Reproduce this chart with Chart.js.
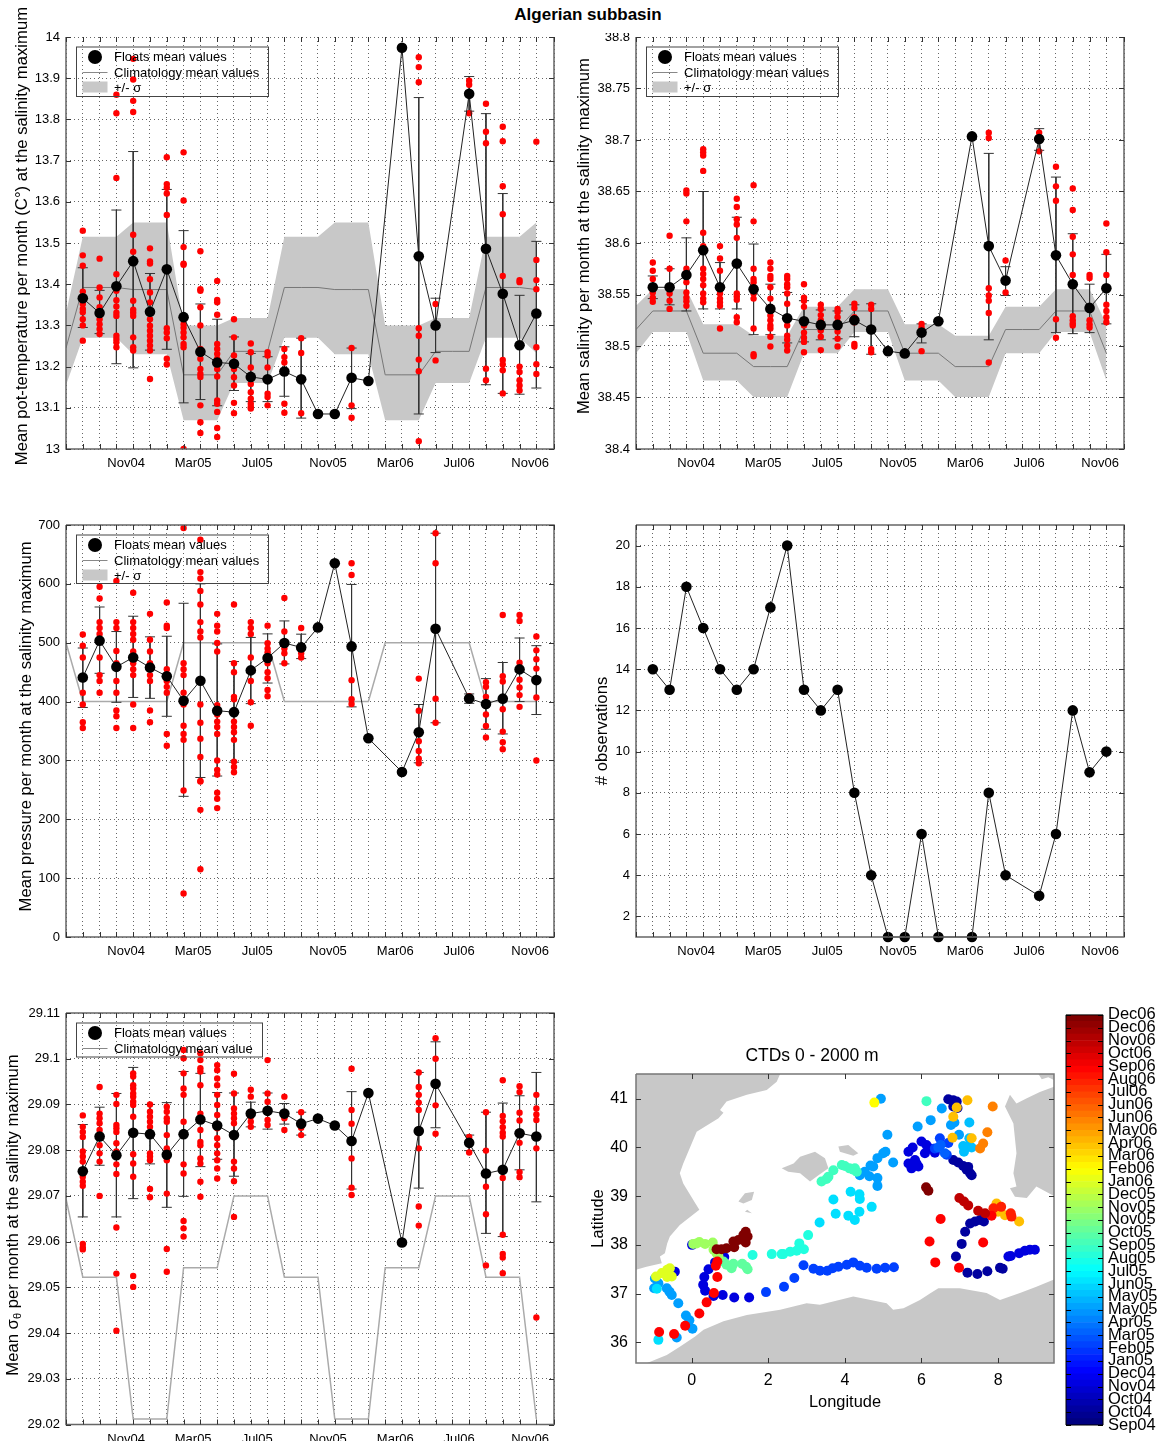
<!DOCTYPE html>
<html>
<head>
<meta charset="utf-8">
<title>Algerian subbasin</title>
<script src="https://cdn.jsdelivr.net/npm/chart.js@4/dist/chart.umd.min.js"></script>
<style>
body { margin: 0; background: #fff; width: 1161px; height: 1441px; position: relative; overflow: hidden; font-family: "Liberation Sans", Arial, sans-serif; }
canvas { position: absolute; }
#title { position: absolute; left: 0; width: 1176px; top: 5px; text-align: center; font-weight: bold; font-size: 17px; line-height: 20px; }
#mask { position: absolute; left: 600px; top: 20px; width: 36px; height: 13px; background: #fff; }
</style>
</head>
<body>
<div id="title">Algerian subbasin</div>
<canvas id="temp" width="570" height="480" style="left:0;top:0"></canvas>
<canvas id="sal" width="570" height="480" style="left:570px;top:0"></canvas>
<canvas id="pres" width="570" height="480" style="left:0;top:490px"></canvas>
<canvas id="count" width="570" height="480" style="left:570px;top:490px"></canvas>
<canvas id="sigma" width="570" height="461" style="left:0;top:980px"></canvas>
<canvas id="map" width="550" height="382" style="left:570px;top:1030px"></canvas>
<canvas id="bar" width="111" height="441" style="left:1050px;top:1000px"></canvas>
<div id="mask"></div>
<script>
// month slots: 0 = Sep04 ... 27 = Dec06, climatology starts one slot earlier
const xTickPos = [2.58, 6.57, 10.38, 14.6, 18.6, 22.4, 26.63]
const xTickLabels = ['Nov04', 'Mar05', 'Jul05', 'Nov05', 'Mar06', 'Jul06', 'Nov06']

const tempTicks = [13, 13.1, 13.2, 13.3, 13.4, 13.5, 13.6, 13.7, 13.8, 13.9, 14]
const tempMean = [13.366, 13.33, 13.395, 13.456, 13.333, 13.436, 13.32, 13.236, 13.21, 13.207, 13.175, 13.169, 13.188, 13.169, 13.085, 13.085, 13.173, 13.165, null, 13.974, 13.468, 13.3, null, 13.862, 13.486, 13.377, 13.252, 13.329]
const tempHi = [13.44, 13.385, 13.58, 13.722, 13.426, 13.63, 13.53, 13.352, 13.315, 13.272, 13.232, 13.224, 13.248, 13.269, null, null, 13.245, null, null, null, 13.853, 13.366, null, 13.904, 13.814, 13.62, 13.373, 13.504]
const tempLo = [13.295, 13.28, 13.207, 13.197, 13.24, 13.242, 13.112, 13.12, 13.105, 13.142, 13.115, 13.115, 13.128, 13.075, null, null, 13.098, null, null, null, 13.085, 13.234, null, 13.82, 13.156, 13.135, 13.133, 13.148]
const tempClim = [13.245, 13.392, 13.392, 13.392, 13.387, 13.387, 13.387, 13.18, 13.18, 13.18, 13.237, 13.237, 13.237, 13.392, 13.392, 13.392, 13.387, 13.387, 13.387, 13.18, 13.18, 13.18, 13.237, 13.237, 13.237, 13.392, 13.392, 13.392, 13.387]
const tempBandHi = [13.33, 13.515, 13.515, 13.515, 13.55, 13.55, 13.55, 13.3, 13.3, 13.3, 13.318, 13.318, 13.318, 13.515, 13.515, 13.515, 13.55, 13.55, 13.55, 13.3, 13.3, 13.3, 13.318, 13.318, 13.318, 13.515, 13.515, 13.515, 13.55]
const tempBandLo = [13.155, 13.27, 13.27, 13.27, 13.23, 13.23, 13.23, 13.07, 13.07, 13.07, 13.16, 13.16, 13.16, 13.27, 13.27, 13.27, 13.23, 13.23, 13.23, 13.07, 13.07, 13.07, 13.16, 13.16, 13.16, 13.27, 13.27, 13.27, 13.233]
const tempObs = [
	[13.53, 13.47, 13.445, 13.382, 13.368, 13.352, 13.34, 13.332, 13.315, 13.3, 13.263],
	[13.462, 13.392, 13.368, 13.344, 13.33, 13.315, 13.303, 13.291, 13.279],
	[13.86, 13.815, 13.658, 13.424, 13.384, 13.361, 13.346, 13.331, 13.323, 13.275, 13.267, 13.259, 13.247],
	[13.947, 13.897, 13.845, 13.818, 13.52, 13.479, 13.36, 13.338, 13.331, 13.323, 13.271, 13.247, 13.239],
	[13.487, 13.455, 13.45, 13.412, 13.38, 13.356, 13.315, 13.299, 13.287, 13.275, 13.263, 13.251, 13.239, 13.17],
	[13.708, 13.643, 13.634, 13.62, 13.568, 13.293, 13.283, 13.269, 13.219, 13.205],
	[13.72, 13.603, 13.49, 13.45, 13.447, 13.303, 13.294, 13.283, 13.271, 13.255, 13.247, 13],
	[13.48, 13.388, 13.384, 13.344, 13.3, 13.243, 13.231, 13.219, 13.194, 13.182, 13.175, 13.106, 13.065, 13.039],
	[13.408, 13.362, 13.356, 13.326, 13.255, 13.243, 13.231, 13.219, 13.194, 13.176, 13.118, 13.11, 13.09, 13.051, 13.029],
	[13.315, 13.271, 13.227, 13.21, 13.194, 13.174, 13.154, 13.112, 13.087],
	[13.256, 13.235, 13.198, 13.158, 13.138, 13.122, 13.11, 13.102, 13.098],
	[13.235, 13.227, 13.198, 13.134, 13.126, 13.106],
	[13.243, 13.223, 13.21, 13.11, 13.088],
	[13.269, 13.233, 13.087],
	[], [],
	[13.245, 13.106, 13.076],
	[], [], [],
	[13.951, 13.927, 13.89, 13.293, 13.275, 13.217, 13.189, 13.019],
	[13.352, 13.303, 13.215],
	[],
	[13.894, 13.884, 13.815],
	[13.838, 13.77, 13.742, 13.195, 13.167],
	[13.782, 13.747, 13.638, 13.57, 13.42, 13.216, 13.205, 13.191, 13.135],
	[13.41, 13.405, 13.2, 13.187, 13.167, 13.154, 13.142],
	[13.746, 13.459, 13.41, 13.388, 13.247, 13.206, 13.182]
]

const salTicks = [38.4, 38.45, 38.5, 38.55, 38.6, 38.65, 38.7, 38.75, 38.8]
const salMean = [38.557, 38.557, 38.569, 38.593, 38.557, 38.58, 38.555, 38.536, 38.527, 38.524, 38.5205, 38.5205, 38.525, 38.516, 38.495, 38.4928, 38.513, 38.524, null, 38.7035, 38.597, 38.5635, null, 38.701, 38.588, 38.56, 38.537, 38.556]
const salHi = [38.568, 38.575, 38.605, 38.65, 38.581, 38.625, 38.599, 38.56, 38.552, 38.544, 38.535, 38.534, 38.54, 38.541, null, null, 38.5215, null, null, null, 38.687, 38.577, null, 38.711, 38.664, 38.609, 38.56, 38.589]
const salLo = [38.546, 38.54, 38.534, 38.536, 38.536, 38.536, 38.511, 38.511, 38.503, 38.504, 38.506, 38.507, 38.509, 38.492, null, null, 38.503, null, null, null, 38.506, 38.549, null, 38.69, 38.513, 38.512, 38.513, 38.5215]
const salClim = [38.516, 38.534, 38.534, 38.534, 38.493, 38.493, 38.493, 38.48, 38.48, 38.48, 38.516, 38.516, 38.516, 38.534, 38.534, 38.534, 38.493, 38.493, 38.493, 38.48, 38.48, 38.48, 38.516, 38.516, 38.516, 38.534, 38.534, 38.534, 38.493]
const salBandHi = [38.539, 38.555, 38.555, 38.555, 38.521, 38.521, 38.521, 38.51, 38.51, 38.51, 38.538, 38.538, 38.538, 38.555, 38.555, 38.555, 38.521, 38.521, 38.521, 38.51, 38.51, 38.51, 38.538, 38.538, 38.538, 38.555, 38.555, 38.555, 38.521]
const salBandLo = [38.493, 38.5135, 38.5135, 38.5135, 38.4666, 38.4666, 38.4666, 38.4504, 38.4504, 38.4504, 38.493, 38.493, 38.493, 38.5135, 38.5135, 38.5135, 38.4666, 38.4666, 38.4666, 38.4504, 38.4504, 38.4504, 38.493, 38.493, 38.493, 38.5135, 38.5135, 38.5135, 38.4666]
const salObs = [
	[38.581, 38.573, 38.565, 38.558, 38.552, 38.547, 38.543],
	[38.607, 38.575, 38.557, 38.551, 38.544, 38.536],
	[38.651, 38.648, 38.621, 38.575, 38.568, 38.562, 38.552, 38.547, 38.5435, 38.539],
	[38.691, 38.688, 38.685, 38.67, 38.61, 38.597, 38.575, 38.57, 38.565, 38.559, 38.551, 38.546, 38.5425],
	[38.597, 38.585, 38.573, 38.551, 38.546, 38.5425, 38.539, 38.517],
	[38.643, 38.635, 38.623, 38.618, 38.605, 38.551, 38.548, 38.545, 38.528, 38.523],
	[38.656, 38.621, 38.575, 38.565, 38.562, 38.557, 38.551, 38.546, 38.517, 38.492, 38.49],
	[38.581, 38.575, 38.568, 38.565, 38.557, 38.546, 38.538, 38.5295, 38.525, 38.52, 38.517, 38.509, 38.4995],
	[38.568, 38.565, 38.56, 38.557, 38.551, 38.541, 38.525, 38.52, 38.51, 38.506, 38.5005, 38.4957],
	[38.56, 38.547, 38.544, 38.538, 38.52, 38.513, 38.508, 38.504, 38.494],
	[38.54, 38.536, 38.53, 38.525, 38.52, 38.515, 38.509, 38.496],
	[38.536, 38.533, 38.528, 38.523, 38.519, 38.514, 38.507, 38.4995],
	[38.541, 38.537, 38.528, 38.523, 38.502, 38.4995],
	[38.54, 38.536, 38.497, 38.494],
	[], [],
	[38.5215, 38.518, 38.495],
	[], [], [],
	[38.707, 38.702, 38.556, 38.549, 38.544, 38.532, 38.484],
	[38.583, 38.552],
	[],
	[38.707, 38.689],
	[38.674, 38.655, 38.641, 38.526, 38.508],
	[38.653, 38.632, 38.606, 38.589, 38.569, 38.529, 38.525, 38.522, 38.52],
	[38.569, 38.566, 38.525, 38.521, 38.518],
	[38.619, 38.591, 38.569, 38.54, 38.534, 38.528, 38.523]
]

const presTicks = [0, 100, 200, 300, 400, 500, 600, 700]
const presMean = [441, 503.5, 459, 475, 458, 443, 401.5, 435.5, 384.5, 382, 453, 474, 499.5, 492, 526, 635, 493.7, 337.6, null, 280.4, 348, 523.6, null, 405.3, 396, 405, 454.7, 436.5]
const presHi = [491, 560.7, 519, 545, 510, 511, 567, 600, 498, 468, 509, 515, 537, 514.5, null, null, 599, null, null, null, 395, 686, null, 413, 439, 466.4, 508, 495]
const presLo = [390, 448, 398.7, 407, 405.5, 375, 239, 271, 273.5, 297, 396.5, 431.5, 464, 473, null, null, 391, null, null, null, 296, 364, null, 397, 353, 345, 400, 378]
const presClim = [500, 400, 400, 400, 400, 400, 400, 500, 500, 500, 500, 500, 500, 400, 400, 400, 400, 400, 400, 500, 500, 500, 500, 500, 500, 400, 400, 400, 400]
const presObs = [
	[514, 495, 475, 415, 395, 365, 355],
	[595, 575, 535, 525, 515, 506, 475, 445, 435, 415],
	[605, 535, 525, 486, 465, 435, 415, 385, 375, 355],
	[585, 535, 525, 515, 505, 485, 475, 465, 455, 445, 395, 355],
	[549, 505, 485, 465, 455, 445, 435, 385, 365],
	[568.5, 529, 525, 455, 445, 435, 425, 415, 345, 325],
	[695, 465, 455, 445, 415, 395, 359, 345, 335, 249, 74],
	[675, 620, 609, 588, 565, 535, 519, 509, 395, 364, 337, 306, 265, 264, 216, 115],
	[549, 529, 519, 499.5, 485, 394, 378, 366, 357, 345, 300, 284, 276, 245, 235, 219],
	[565, 465, 450, 408, 404, 366, 357, 348, 335, 298, 289, 280],
	[535, 525, 515, 475, 435, 399, 359],
	[529, 499, 490, 483.6, 465, 450, 439.5, 419.6, 409],
	[576, 519, 499, 490, 482, 465],
	[525, 482, 475],
	[], [],
	[635, 615, 436.4, 404, 396],
	[], [], [],
	[439, 384.5, 332.5, 316, 303, 295],
	[686, 635, 405, 364],
	[],
	[409, 405],
	[433, 425, 408, 378, 358.5, 339],
	[547, 443, 434, 407, 387, 349, 331, 319],
	[547, 537, 466, 456, 437, 424, 411, 391],
	[510.5, 487, 472, 456, 407, 300]
]

const countTicks = [2, 4, 6, 8, 10, 12, 14, 16, 18, 20]
const countValues = [14, 13, 18, 16, 14, 13, 14, 17, 20, 13, 12, 13, 8, 4, 1, 1, 6, 1, null, 1, 8, 4, null, 3, 6, 12, 9, 10]

const sigTicks = [29.02, 29.03, 29.04, 29.05, 29.06, 29.07, 29.08, 29.09, 29.1, 29.11]
const sigMean = [29.0754, 29.083, 29.0789, 29.0838, 29.0835, 29.079, 29.0835, 29.0867, 29.0854, 29.0833, 29.088, 29.0886, 29.088, 29.0858, 29.0869, 29.0854, 29.082, 29.0925, null, 29.0598, 29.0842, 29.0945, null, 29.0816, 29.0749, 29.0757, 29.0837, 29.083]
const sigHi = [29.0856, 29.0894, 29.0924, 29.0981, 29.09, 29.0904, 29.0972, 29.0968, 29.0926, 29.0925, 29.0905, 29.0925, 29.0902, 29.0883, null, null, 29.0928, null, null, null, 29.097, 29.1037, null, 29.0833, 29.0883, 29.0903, 29.0919, 29.097]
const sigLo = [29.0654, 29.0767, 29.0654, 29.0694, 29.077, 29.0675, 29.0699, 29.0764, 29.078, 29.0743, 29.0851, 29.0846, 29.0857, 29.0833, null, null, 29.0715, null, null, null, 29.0717, 29.0849, null, 29.0799, 29.0618, 29.0611, 29.0757, 29.0687]
const sigClim = [29.0694, 29.0522, 29.0522, 29.0522, 29.0212, 29.0212, 29.0212, 29.0543, 29.0543, 29.0543, 29.07, 29.07, 29.07, 29.0522, 29.0522, 29.0522, 29.0212, 29.0212, 29.0212, 29.0543, 29.0543, 29.0543, 29.07, 29.07, 29.07, 29.0522, 29.0522, 29.0522, 29.0212]
const sigObs = [
	[29.0876, 29.0851, 29.084, 29.0829, 29.0797, 29.0786, 29.0775, 29.0742, 29.0731, 29.0722, 29.0595, 29.0587, 29.0583],
	[29.0938, 29.088, 29.087, 29.0859, 29.0844, 29.0811, 29.0793, 29.0775, 29.07],
	[29.0921, 29.0901, 29.0855, 29.0848, 29.084, 29.0815, 29.0797, 29.0769, 29.0748, 29.0631, 29.053, 29.0405],
	[29.0968, 29.0961, 29.0942, 29.0935, 29.0924, 29.0917, 29.0906, 29.0899, 29.0873, 29.0791, 29.0771, 29.0742, 29.0525, 29.0501],
	[29.09, 29.0884, 29.0873, 29.0862, 29.0851, 29.0793, 29.0786, 29.0778, 29.0715, 29.0697],
	[29.0895, 29.0884, 29.087, 29.0862, 29.0833, 29.0804, 29.0797, 29.0778, 29.0705, 29.0584, 29.0534],
	[29.1019, 29.1001, 29.0968, 29.0935, 29.0921, 29.0862, 29.0769, 29.0749, 29.0645, 29.0629, 29.0611],
	[29.1012, 29.0997, 29.0979, 29.0972, 29.0942, 29.088, 29.0844, 29.0818, 29.0811, 29.0782, 29.0771, 29.0731, 29.0698],
	[29.0986, 29.0975, 29.0957, 29.0942, 29.0921, 29.0899, 29.0877, 29.0848, 29.0826, 29.0811, 29.0793, 29.0778, 29.076, 29.0738],
	[29.0967, 29.0924, 29.0891, 29.088, 29.087, 29.0859, 29.0833, 29.0775, 29.076, 29.0732, 29.0654],
	[29.0932, 29.0917, 29.0873, 29.0862, 29.0851],
	[29.0997, 29.0924, 29.0906, 29.0884, 29.0866, 29.0855],
	[29.0917, 29.087, 29.0844],
	[29.0883, 29.0849, 29.0833],
	[], [],
	[29.0978, 29.0888, 29.0858, 29.0782, 29.0718, 29.0702],
	[], [], [],
	[29.097, 29.0938, 29.0921, 29.0904, 29.0888, 29.0804, 29.0677, 29.0635],
	[29.1045, 29.1, 29.0898, 29.0836],
	[],
	[29.0829, 29.082, 29.0795],
	[29.0883, 29.0799, 29.072, 29.066, 29.0548],
	[29.0953, 29.0875, 29.0863, 29.085, 29.0838, 29.083, 29.0739, 29.0615, 29.0573, 29.0565, 29.0531],
	[29.094, 29.0927, 29.0882, 29.0865, 29.0816, 29.0752, 29.0741],
	[29.0921, 29.0891, 29.0878, 29.0866, 29.0804, 29.0434]
]

// colour bar labels, top to bottom
const barLabels = ['Dec06', 'Dec06', 'Nov06', 'Oct06', 'Sep06', 'Aug06', 'Jul06', 'Jun06', 'Jun06', 'May06', 'Apr06', 'Mar06', 'Feb06', 'Jan06', 'Dec05', 'Nov05', 'Nov05', 'Oct05', 'Sep05', 'Aug05', 'Jul05', 'Jun05', 'May05', 'May05', 'Apr05', 'Mar05', 'Feb05', 'Jan05', 'Dec04', 'Nov04', 'Oct04', 'Oct04', 'Sep04']

// land outlines as [lon, lat]
const landSpain = [[-1.46, 41.51], [2.31, 41.51], [2.22, 41.35], [1.96, 41.18], [1.44, 41.08], [0.91, 40.94], [0.74, 40.77], [0.83, 40.71], [0.7, 40.6], [0.13, 40.32], [-0.22, 39.67], [-0.31, 39.47], [-0.22, 39.26], [0.09, 38.86], [0.2, 38.72], [-0.31, 38.41], [-0.57, 38.17], [-0.64, 38.03], [-0.7, 37.83], [-0.83, 37.76], [-0.78, 37.62], [-1.18, 37.55], [-1.46, 37.49]]
const landAfrica = [[-1.18, 35.57], [-0.65, 35.74], [-0.31, 35.91], [0.09, 36.12], [0.31, 36.26], [0.83, 36.43], [1.44, 36.56], [2.31, 36.67], [3, 36.8], [3.35, 36.77], [4.22, 36.94], [5.09, 36.8], [5.26, 36.67], [5.53, 36.7], [5.96, 36.87], [6.22, 37], [6.44, 37.11], [7, 37.11], [7.7, 37.01], [8.05, 36.87], [8.57, 37.01], [9, 37.14], [9.47, 37.29], [9.47, 35.57]]
const landSardinia = [[9.47, 41.25], [9.09, 41.14], [8.75, 41.01], [8.48, 40.9], [8.31, 41.08], [8.18, 40.84], [8.4, 40.49], [8.48, 39.88], [8.4, 39.47], [8.48, 39.2], [8.31, 39.16], [8.44, 38.99], [8.75, 38.96], [9, 39.2], [9.47, 39]]
const landCorsica = [[9.05, 41.51], [9.14, 41.4], [9.31, 41.44], [9.47, 41.38], [9.47, 41.51]]
const landMallorca = [[2.35, 39.57], [2.66, 39.67], [2.83, 39.81], [3.22, 39.91], [3.48, 39.78], [3.57, 39.57], [3.31, 39.43], [3.09, 39.3], [2.83, 39.47], [2.52, 39.5]]
const landMenorca = [[3.83, 40.02], [4.09, 40.05], [4.35, 39.88], [4.22, 39.83], [3.87, 39.91]]
const landIbiza = [[1.22, 38.89], [1.39, 39.06], [1.63, 39.09], [1.57, 38.92], [1.35, 38.85]]
const landFormentera = [[1.39, 38.68], [1.57, 38.65], [1.45, 38.72]]

// float positions as [lon, lat], one list per colour bar slot (0 = Sep04)
const trackOct04 = [[6.7, 40.99], [6.83, 40.97], [6.92, 40.94], [6.83, 40.84], [6.94, 40.81], [6.83, 39.74], [6.96, 39.69], [7.09, 39.62], [7.22, 39.6], [7.18, 39.54], [7.27, 39.47], [7.31, 39.43], [6.9, 37.76], [7.05, 38.02], [7.14, 38.27], [7.27, 38.44], [7.4, 38.48], [7.53, 38.51], [7.63, 38.48], [7.2, 37.43], [7.46, 37.4], [7.72, 37.46], [8.05, 37.53], [8.12, 37.51]]
const trackNov04 = [[6, 40.12], [6.13, 40.05], [6.22, 39.98], [6.35, 39.89], [6.09, 39.88], [5.66, 39.91], [5.77, 40], [5.66, 39.67], [5.83, 39.74], [5.74, 39.57], [5.92, 39.61], [5.87, 39.67], [8.27, 37.76], [8.33, 37.77], [8.55, 37.83], [8.7, 37.88], [8.83, 37.9], [8.96, 37.9], [0.33, 37.34], [0.3, 37.18], [0.35, 37.06], [0.44, 37.5], [0.57, 36.95], [0.81, 36.97], [1.11, 36.92], [1.5, 36.92], [0.61, 37.64], [0.85, 37.75], [0.01, 38], [-0.44, 37.45]]
const trackJan05 = [[1.94, 37.03], [2.41, 37.14], [2.68, 37.32], [2.92, 37.58], [3.18, 37.51], [3.35, 37.47], [3.54, 37.47], [3.68, 37.52], [3.83, 37.55], [4.05, 37.59], [4.22, 37.64], [4.39, 37.57], [4.57, 37.53], [4.83, 37.51], [5.05, 37.53], [5.28, 37.54], [6.66, 39.85], [6.35, 39.98], [6.7, 40.09], [6.48, 40.19]]
const trackFeb05 = [[6.44, 40], [6.5, 40.05], [6.61, 39.88]]
const trackMay05 = [[4.94, 41], [6.53, 40.8], [6.77, 40.46], [6.86, 40.51], [6.24, 40.56], [5.9, 40.43], [5.11, 40.26], [6.98, 40.26], [5.06, 39.91], [5, 39.88], [4.85, 39.78], [5.26, 39.69], [4.74, 39.61], [4.67, 39.63], [4.64, 39.41], [4.85, 39.37], [4.85, 39.21], [4.52, 39.5], [4.39, 39.43], [-0.96, 37.31], [-0.98, 37.11], [-0.87, 37.21], [-0.65, 37.11], [-0.58, 37.04], [-0.52, 36.97], [-0.35, 36.8], [-0.15, 36.55], [-0.06, 36.45], [0.02, 36.28], [-0.39, 36.1]]
const trackMay05b = [[7.09, 40.03], [7.22, 40.02], [7.31, 40], [7.11, 39.91], [7.25, 40.19], [7.25, 40.51]]
const trackJun05 = [[4.15, 39.09], [4.38, 39.04], [4.39, 38.94], [3.7, 38.93], [4.7, 38.78], [3.76, 38.64], [4.38, 38.68], [4.09, 38.6], [4.26, 38.51], [3.34, 38.46], [-0.91, 37.1], [-0.87, 36.05]]
const trackAug05 = [[3.04, 38.2], [2.81, 38.03], [2.93, 37.91], [2.74, 37.88], [2.57, 37.86], [2.39, 37.81], [2.35, 37.81], [2.09, 37.81], [1.59, 37.79]]
const trackSep05 = [[3.39, 39.3], [3.52, 39.35], [3.57, 39.4], [3.7, 39.53], [3.92, 39.64], [4, 39.62], [4.12, 39.57], [4.22, 39.54], [4.31, 39.5], [4.26, 39.57], [6.13, 40.95]]
const trackOct05 = [[0.83, 37.66], [0.91, 37.59], [1.04, 37.52], [1.09, 37.61], [1.32, 37.61], [1.42, 37.55], [1.46, 37.5]]
const trackNov05 = [[0.04, 38.02], [0.13, 38.03], [0.2, 38.06], [0.35, 38.02], [0.55, 38.05], [0.57, 37.9], [0.65, 37.83], [0.7, 37.76]]
const trackJan06 = [[-0.93, 37.35], [-0.78, 37.42], [-0.64, 37.34], [-0.57, 37.52], [-0.52, 37.35], [-0.64, 37.49]]
const trackFeb06 = [[4.77, 40.92]]
const trackApr06 = [[7.2, 40.97], [6.92, 40.82], [6.83, 40.63], [6.81, 40.2], [7.31, 40.19], [7.96, 38.85], [8, 38.68], [8.18, 38.61], [8.55, 38.48]]
const trackJun06 = [[7.86, 40.84], [7.72, 40.31], [7.61, 40.08], [7.53, 39.98]]
const trackAug06 = [[7.88, 38.75], [8.08, 38.78], [8.33, 38.65], [8.35, 38.58]]
const trackSep06 = [[7.83, 38.6], [6.5, 38.53], [6.21, 38.07], [7.61, 38.05], [6.36, 37.64], [6.98, 37.53], [-0.85, 36.21], [-0.46, 36.17], [-0.17, 36.34], [0.2, 36.59], [0.39, 36.82], [0.58, 37.01], [0.67, 37.34], [0.63, 37.57], [0.67, 37.66]]
const trackNov06 = [[7.66, 38.65], [7.48, 38.7], [7.22, 38.81], [6.99, 38.96], [7.11, 38.89]]
const trackDec06 = [[6.12, 39.18], [6.18, 39.11], [0.65, 37.91], [0.78, 37.91], [0.91, 37.93], [1.11, 37.95], [1.09, 38.07], [1.22, 38.1], [1.41, 38.27], [1.46, 38.17], [1.41, 38.05], [1.35, 38.2]]

const fontName = '"Liberation Sans", Arial, sans-serif'
const gridColor = '#666'
const bandColor = '#c8c8c8'

Chart.defaults.font.family = fontName
Chart.defaults.color = '#000'

function jet(t) {
	const f = (c) => Math.round(255 * Math.max(0, Math.min(1, 1.5 - Math.abs(4 * t - c))))
	return `rgb(${f(3)},${f(2)},${f(1)})`
}

// box on the chart area with small inward ticks on the four sides
function framePlugin(opts) {
	return {
		id: 'frame',
		afterDatasetsDraw(chart) {
			const { ctx, chartArea: a } = chart
			const xs = chart.scales.xg || chart.scales.x
			const ys = chart.scales.y
			ctx.save()
			ctx.strokeStyle = opts.color
			ctx.lineWidth = opts.width
			ctx.beginPath()
			ctx.moveTo(a.left, a.top)
			ctx.lineTo(a.left, a.bottom)
			ctx.lineTo(a.right, a.bottom)
			ctx.lineTo(a.right, a.top)
			if (opts.top) ctx.lineTo(a.left, a.top)
			ctx.stroke()
			ctx.strokeStyle = opts.tickColor
			ctx.lineWidth = 1
			ctx.beginPath()
			if (!opts.noX) {
				xs.ticks.forEach(t => {
					const px = Math.round(xs.getPixelForValue(t.value)) + 0.5
					ctx.moveTo(px, a.top)
					ctx.lineTo(px, a.top + 5)
					ctx.moveTo(px, a.bottom)
					ctx.lineTo(px, a.bottom - 5)
				})
			}
			ys.ticks.forEach(t => {
				const py = Math.round(ys.getPixelForValue(t.value)) + 0.5
				ctx.moveTo(a.left, py)
				ctx.lineTo(a.left + 5, py)
				ctx.moveTo(a.right, py)
				ctx.lineTo(a.right - 5, py)
			})
			ctx.stroke()
			ctx.restore()
		}
	}
}

function legendPlugin(labels, boxWidth, boxHeight) {
	return {
		id: 'boxLegend',
		afterDatasetsDraw(chart) {
			const { ctx, chartArea: a } = chart
			const x = a.left + 10.5
			const y = a.top + 10
			ctx.save()
			ctx.strokeStyle = '#444'
			ctx.lineWidth = 1
			ctx.strokeRect(x, y, boxWidth, boxHeight)
			ctx.fillStyle = '#000'
			ctx.beginPath()
			ctx.arc(x + 18.5, y + 10, 7, 0, 2 * Math.PI)
			ctx.fill()
			ctx.strokeStyle = '#888'
			ctx.beginPath()
			ctx.moveTo(x + 6, y + 25.5)
			ctx.lineTo(x + 31, y + 25.5)
			ctx.stroke()
			if (labels.length > 2) {
				ctx.fillStyle = bandColor
				ctx.fillRect(x + 6, y + 34.5, 25, 11)
			}
			ctx.fillStyle = '#000'
			ctx.font = `13px ${fontName}`
			ctx.textBaseline = 'middle'
			labels.forEach((t, i) => ctx.fillText(t, x + 37.5, y + 10.5 + i * 15.5))
			ctx.restore()
		}
	}
}

// the sigma-theta axis title needs a real subscript
const sigmaTitle = {
	id: 'sigmaTitle',
	afterDraw(chart) {
		const { ctx } = chart
		const parts = ['Mean σ', 'θ', ' per month at the salinity maximum']
		ctx.save()
		ctx.translate(13, 235)
		ctx.rotate(-Math.PI / 2)
		ctx.fillStyle = '#000'
		ctx.textBaseline = 'middle'
		ctx.font = `16.7px ${fontName}`
		const w0 = ctx.measureText(parts[0]).width
		const w2 = ctx.measureText(parts[2]).width
		ctx.font = `11px ${fontName}`
		const w1 = ctx.measureText(parts[1]).width
		let x = -(w0 + w1 + w2) / 2
		ctx.fillText(parts[1], x + w0, 5)
		ctx.font = `16.7px ${fontName}`
		ctx.fillText(parts[0], x, 0)
		ctx.fillText(parts[2], x + w0 + w1, 0)
		ctx.restore()
	}
}

function errorBarPoints(hi, lo) {
	const pts = []
	hi.forEach((h, i) => {
		if (h === null) return
		const l = lo[i]
		pts.push({ x: i - 0.3, y: h }, { x: i + 0.3, y: h }, { x: i, y: null })
		pts.push({ x: i, y: h }, { x: i, y: l }, { x: i, y: null })
		pts.push({ x: i - 0.3, y: l }, { x: i + 0.3, y: l }, { x: i, y: null })
	})
	return pts
}

function slotPoints(values, start) {
	const pts = []
	values.forEach((v, i) => {
		if (v !== null) pts.push({ x: i + start, y: v })
	})
	return pts
}

function obsPoints(obs) {
	const pts = []
	obs.forEach((list, i) => list.forEach(v => pts.push({ x: i, y: v })))
	return pts
}

function makePanel(id, cfg) {
	const datasets = []
	if (cfg.bandLo) {
		datasets.push({ data: slotPoints(cfg.bandLo, -1), showLine: true, pointRadius: 0, borderWidth: 0, borderColor: bandColor, order: 6 })
		datasets.push({ data: slotPoints(cfg.bandHi, -1), showLine: true, pointRadius: 0, borderWidth: 0, borderColor: bandColor, backgroundColor: bandColor, fill: '-1', order: 5 })
	}
	if (cfg.clim) {
		datasets.push({ data: slotPoints(cfg.clim, -1), showLine: true, pointRadius: 0, borderWidth: cfg.climWidth, borderColor: cfg.climColor, order: 4 })
	}
	if (cfg.hi) {
		datasets.push({ data: errorBarPoints(cfg.hi, cfg.lo), showLine: true, spanGaps: false, pointRadius: 0, borderWidth: 1, borderColor: '#333', order: 3 })
	}
	if (cfg.obs) {
		datasets.push({ data: obsPoints(cfg.obs), pointRadius: 3.2, pointBackgroundColor: '#f00', pointBorderWidth: 0, order: 2 })
	}
	datasets.push({ data: slotPoints(cfg.mean, 0), showLine: true, borderWidth: 1, borderColor: '#222', pointRadius: 5.3, pointBackgroundColor: '#000', pointBorderWidth: 0, clip: cfg.noClip ? false : undefined, order: 1 })

	const plugins = [framePlugin({ color: '#666', width: 1.5, tickColor: '#333', top: cfg.top })]
	if (cfg.legend) plugins.push(legendPlugin(cfg.legend, cfg.legendW, cfg.legendH))
	if (cfg.extra) plugins.push(cfg.extra)

	new Chart(document.getElementById(id), {
		type: 'scatter',
		data: { datasets },
		plugins,
		options: {
			responsive: false,
			animation: false,
			events: [],
			layout: { autoPadding: false, padding: { top: cfg.padTop, right: 16, left: 0, bottom: 0 } },
			plugins: { legend: { display: false }, tooltip: { enabled: false } },
			scales: {
				x: {
					type: 'linear', min: -1, max: 28.05, position: 'bottom',
					grid: { display: false, drawTicks: false }, border: { display: false },
					afterBuildTicks: (s) => { s.ticks = xTickPos.map(v => ({ value: v })) },
					afterFit: (s) => { s.height = cfg.padBottom },
					ticks: { autoSkip: false, maxRotation: 0, padding: 7, font: { size: 13 }, callback: (v, i) => xTickLabels[i] }
				},
				xg: {
					type: 'linear', min: -1, max: 28.05, position: 'top',
					grid: { color: gridColor, lineWidth: 1, drawTicks: false }, border: { display: false, dash: [1, 3] },
					afterFit: (s) => { s.height = 0 },
					ticks: { display: false, stepSize: 1, autoSkip: false }
				},
				y: {
					min: cfg.min, max: cfg.max,
					grid: { color: gridColor, lineWidth: 1, drawTicks: false }, border: { display: false, dash: [1, 3] },
					afterBuildTicks: (s) => { s.ticks = cfg.ticks.map(v => ({ value: v })) },
					afterFit: (s) => { s.width = 66 },
					title: { display: !!cfg.title, text: cfg.title, font: { size: 16.7 }, padding: { top: cfg.titlePad, bottom: 0 } },
					ticks: { autoSkip: false, padding: 6, font: { size: 13 }, callback: (v) => String(v) }
				}
			}
		}
	})
}

const floatLegend = ['Floats mean values', 'Climatology mean values', '+/- σ']

makePanel('temp', {
	mean: tempMean, hi: tempHi, lo: tempLo, obs: tempObs, clim: tempClim, bandHi: tempBandHi, bandLo: tempBandLo,
	climColor: '#777', climWidth: 1, ticks: tempTicks, min: 13, max: 14, padTop: 37, padBottom: 31,
	title: '\u00a0\u00a0\u00a0Mean pot-temperature per month (C°) at the salinity maximum', titlePad: 12,
	legend: floatLegend, legendW: 192, legendH: 49.5
})
makePanel('sal', {
	mean: salMean, hi: salHi, lo: salLo, obs: salObs, clim: salClim, bandHi: salBandHi, bandLo: salBandLo,
	climColor: '#777', climWidth: 1, ticks: salTicks, min: 38.4, max: 38.8, padTop: 37, padBottom: 31,
	title: '\u00a0\u00a0\u00a0Mean salinity per month at the salinity maximum', titlePad: 4,
	legend: floatLegend, legendW: 192, legendH: 49.5
})
makePanel('pres', {
	mean: presMean, hi: presHi, lo: presLo, obs: presObs, clim: presClim,
	climColor: '#aaa', climWidth: 1.5, ticks: presTicks, min: 0, max: 700, padTop: 35, padBottom: 33, top: true,
	title: '\u00a0\u00a0Mean pressure per month at the salinity maximum', titlePad: 16,
	legend: floatLegend, legendW: 192, legendH: 48.5
})
makePanel('count', {
	mean: countValues, ticks: countTicks, min: 1, max: 21, padTop: 35, padBottom: 33, top: true, noClip: true,
	title: '# observations', titlePad: 22
})
makePanel('sigma', {
	mean: sigMean, hi: sigHi, lo: sigLo, obs: sigObs, clim: sigClim,
	climColor: '#aaa', climWidth: 1.5, ticks: sigTicks, min: 29.02, max: 29.11, padTop: 33, padBottom: 16.5, top: true,
	legend: ['Floats mean values', 'Climatology mean value'], legendW: 186, legendH: 34, extra: sigmaTitle
})

// map panel
const landLists = [landSpain, landAfrica, landSardinia, landCorsica, landMallorca, landMenorca, landIbiza, landFormentera]
const trackLists = [
	[1, trackOct04], [3, trackNov04], [6, trackJan05], [7, trackFeb05], [9, trackMay05], [10, trackMay05b], [11, trackJun05], [13, trackAug05], [14, trackSep05], [15, trackOct05], [17, trackNov05], [19, trackJan06], [20, trackFeb06], [22, trackApr06], [24, trackJun06], [27, trackAug06], [28, trackSep06], [30, trackNov06], [32, trackDec06]
]
const mapDatasets = []
landLists.forEach(list => {
	const pts = list.map(p => ({ x: p[0], y: p[1] }))
	pts.push(pts[0])
	mapDatasets.push({ data: pts, showLine: true, pointRadius: 0, borderWidth: 0, backgroundColor: bandColor, fill: 'shape', order: 10 })
})
trackLists.forEach(([slot, list], i) => {
	mapDatasets.push({
		data: list.map(p => ({ x: p[0], y: p[1] })),
		pointRadius: 5, pointBackgroundColor: jet(slot / 32), pointBorderWidth: 0, order: 5 - i / 100
	})
})

new Chart(document.getElementById('map'), {
	type: 'scatter',
	data: { datasets: mapDatasets },
	plugins: [framePlugin({ color: '#777', width: 1.5, tickColor: '#333', top: true })],
	options: {
		responsive: false,
		animation: false,
		events: [],
		layout: { autoPadding: false, padding: { top: 0, right: 66, left: 0, bottom: 0 } },
		plugins: {
			legend: { display: false },
			tooltip: { enabled: false },
			title: { display: true, text: 'CTDs 0 - 2000 m', font: { size: 17.5, weight: 'normal' }, color: '#000', padding: { top: 16, bottom: 7 } }
		},
		scales: {
			x: {
				min: -1.454, max: 9.46, grid: { display: false, drawTicks: false }, border: { display: false },
				afterBuildTicks: (s) => { s.ticks = [0, 2, 4, 6, 8].map(v => ({ value: v })) },
				afterFit: (s) => { s.height = 49 },
				title: { display: true, text: 'Longitude', font: { size: 16.4 }, padding: 0 },
				ticks: { padding: 8, font: { size: 16 }, maxRotation: 0, callback: (v) => String(v) }
			},
			y: {
				min: 35.575, max: 41.507, grid: { display: false, drawTicks: false }, border: { display: false },
				afterBuildTicks: (s) => { s.ticks = [36, 37, 38, 39, 40, 41].map(v => ({ value: v })) },
				afterFit: (s) => { s.width = 66 },
				title: { display: true, text: 'Latitude', font: { size: 16.4 }, padding: { top: 19, bottom: 0 } },
				ticks: { padding: 8, font: { size: 16 }, callback: (v) => String(v) }
			}
		}
	}
})

// colour bar, 64 flat levels stacked on a 0-32 axis
const barData = []
for (let i = 0; i < 64; i++) {
	barData.push({ data: [0.5], backgroundColor: jet(i / 63), borderWidth: 0, barPercentage: 1, categoryPercentage: 1, stack: 'bar' })
}
new Chart(document.getElementById('bar'), {
	type: 'bar',
	data: { labels: [''], datasets: barData },
	plugins: [framePlugin({ color: '#000', width: 1, tickColor: '#000', top: true, noX: true })],
	options: {
		responsive: false,
		animation: false,
		events: [],
		layout: { autoPadding: false, padding: { top: 12, right: 0, left: 16, bottom: 16 } },
		plugins: { legend: { display: false }, tooltip: { enabled: false } },
		scales: {
			x: { display: false, stacked: true },
			y: {
				stacked: true, position: 'right', min: 0, max: 32,
				grid: { display: false, drawTicks: false }, border: { display: false },
				afterFit: (s) => { s.width = 58 },
				ticks: { stepSize: 1, autoSkip: false, padding: 5, font: { size: 16.5 }, callback: (v) => barLabels[32 - v] }
			}
		}
	}
})
</script>
</body>
</html>
